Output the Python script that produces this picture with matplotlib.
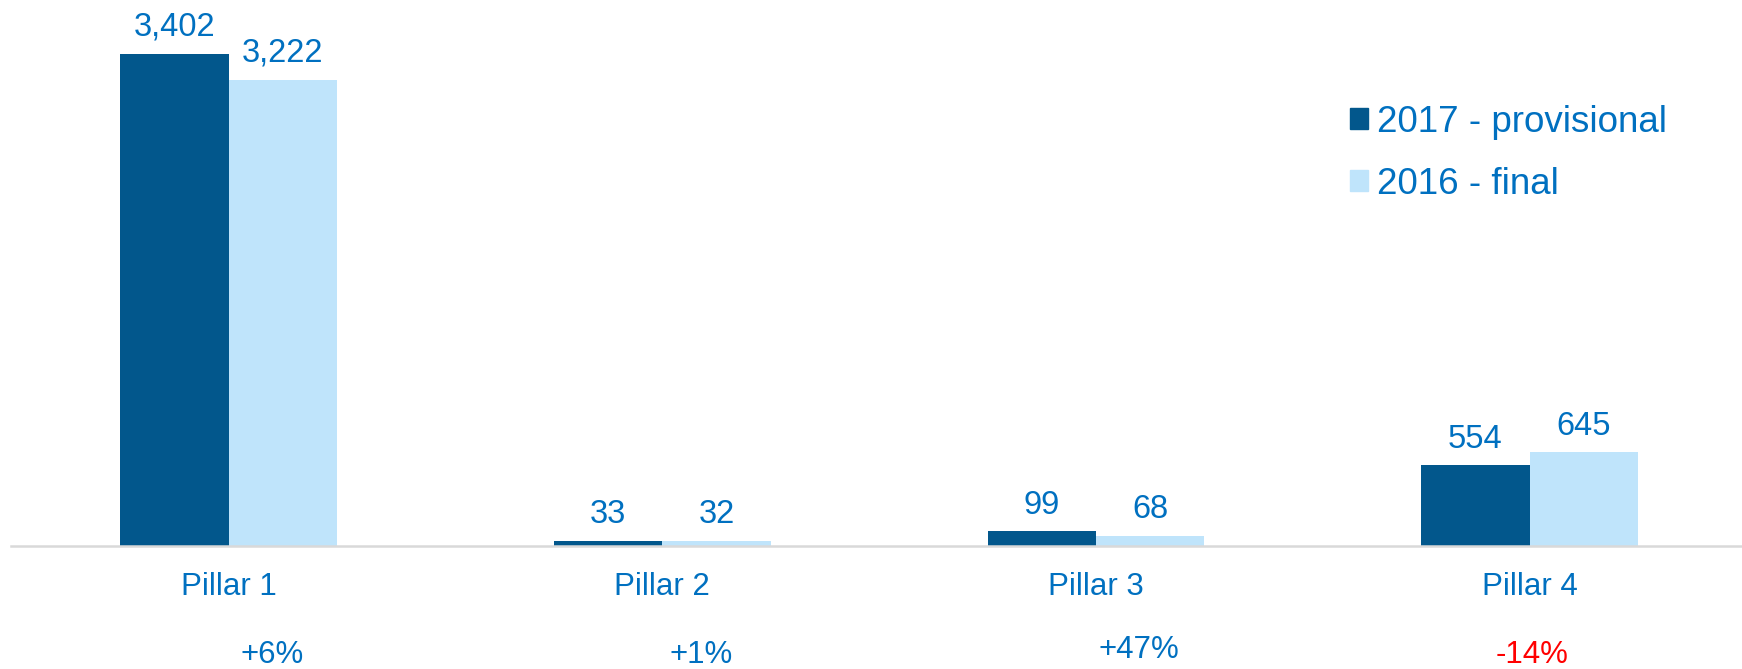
import matplotlib
matplotlib.use("Agg")
import matplotlib.pyplot as plt
import matplotlib.transforms as mtransforms
from matplotlib.patches import Patch
import numpy as np

categories = ["Pillar 1", "Pillar 2", "Pillar 3", "Pillar 4"]
values_2017 = [3402, 33, 99, 554]
values_2016 = [3222, 32, 68, 645]
changes = ["+6%", "+1%", "+47%", "-14%"]
change_x = [0.10, 1.09, 2.10, 3.005]
change_y = [-0.201, -0.201, -0.192, -0.201]

dark = "#02578C"
light = "#BFE4FB"
blue_text = "#0070C0"
red_text = "#FF0000"

plt.rcParams["font.family"] = ["Liberation Sans", "DejaVu Sans"]

W, H = 1742, 669
fig = plt.figure(figsize=(W / 100, H / 100), dpi=100)
base = 545.5
ax = fig.add_axes([11 / W, (H - base) / H, (W - 11) / W, base / H])

x = np.arange(len(categories))
w = 0.25
b1 = ax.bar(x - w / 2, values_2017, w, color=dark, label="2017 - provisional")
b2 = ax.bar(x + w / 2, values_2016, w, color=light, label="2016 - final")

for bars, vals in [(b1, values_2017), (b2, values_2016)]:
    for rect, v in zip(bars, vals):
        ax.annotate(f"{v:,}", (rect.get_x() + rect.get_width() / 2, v),
                    xytext=(0, 18.8), textcoords="offset points",
                    ha="center", va="center", fontsize=23.5, color=blue_text)

ax.set_xlim(-0.502, 3.49)
ax.set_ylim(0, 3772)
for s in ["top", "right", "left"]:
    ax.spines[s].set_visible(False)
ax.spines["bottom"].set_color("#D9D9D9")
ax.spines["bottom"].set_linewidth(1.8)
ax.set_yticks([])
ax.set_xticks(x)
ax.set_xticklabels(categories, fontsize=22.5, color=blue_text)
ax.tick_params(axis="x", length=0, pad=19)

trans = mtransforms.blended_transform_factory(ax.transData, ax.transAxes)
for cx, cy, t in zip(change_x, change_y, changes):
    col = red_text if t.startswith("-") else blue_text
    ax.text(cx, cy, t, transform=trans, ha="center", va="center",
            fontsize=22.5, color=col)

handles = [Patch(color=dark), Patch(color=light)]
leg = fig.legend(handles, ["2017 - provisional", "2016 - final"],
                 loc="upper left", bbox_to_anchor=(1350 / W, 1 - 105 / H),
                 frameon=False, fontsize=26.5, handlelength=0.5,
                 handleheight=0.5, handletextpad=0.22, labelspacing=0.72,
                 borderpad=0, borderaxespad=0)
for t in leg.get_texts():
    t.set_color(blue_text)

fig.savefig("out.png", dpi=100)
